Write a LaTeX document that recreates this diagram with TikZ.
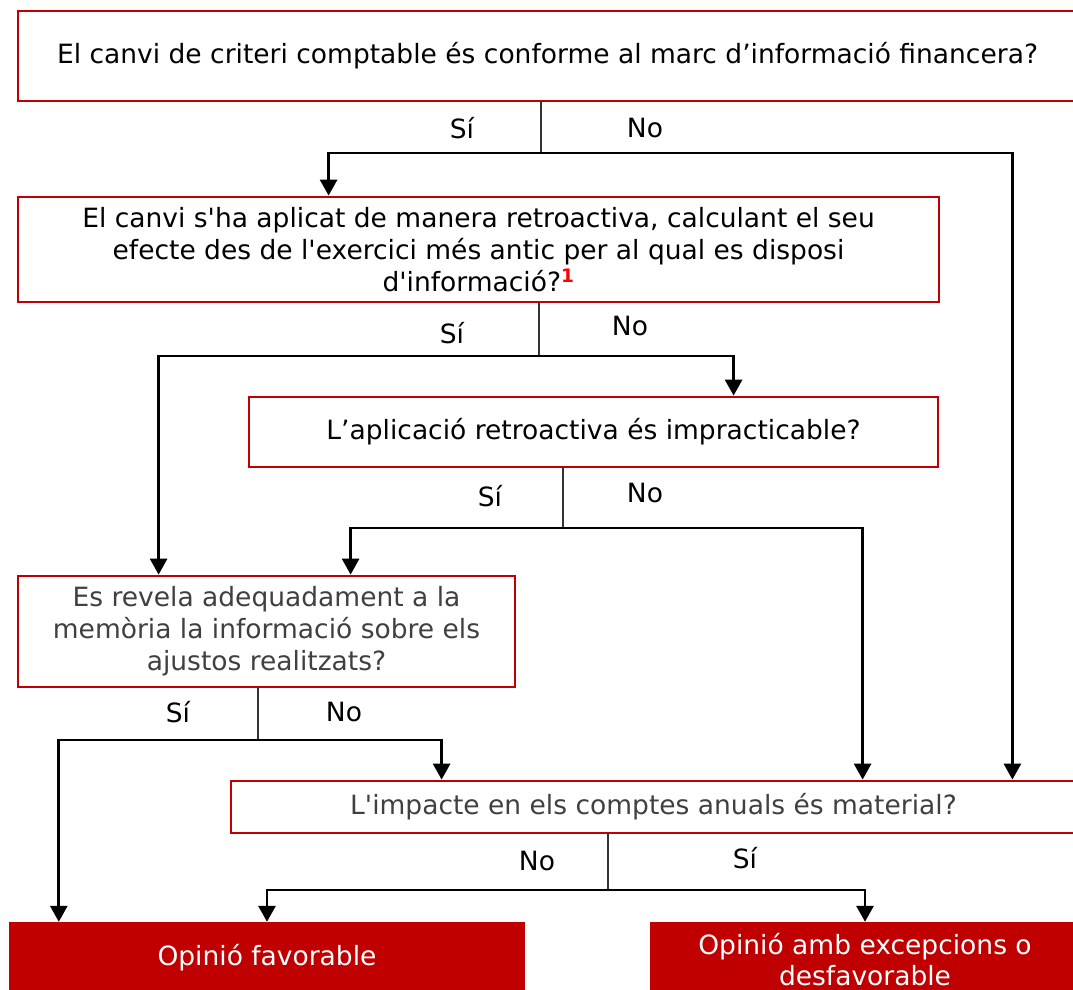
\documentclass[tikz,border=0pt]{standalone}
\usepackage{fontspec}
\setmainfont{DejaVu Sans}[Ligatures=TeXOff]
\usetikzlibrary{arrows.meta}
\definecolor{kred}{HTML}{C00000}
\definecolor{kgray}{HTML}{404040}
\tikzset{
  qbox/.style={draw=kred, line width=2.8pt, fill=white, inner sep=0pt, align=center, text=black,
    font=\fontsize{26.5}{32}\selectfont},
  obox/.style={draw=none, fill=kred, inner sep=0pt, align=center, text=white,
    font=\fontsize{26.5}{31}\selectfont},
  stem/.style={line width=1.2pt, draw=black!80},
  arr/.style={line width=2.9pt, draw=black, line join=miter, -{Triangle[length=16pt,width=17pt]}},
  lbl/.style={font=\fontsize{26.5}{30}\selectfont, text=black, inner sep=0pt},
}
\begin{document}
\begin{tikzpicture}[x=1pt,y=-1pt]
\useasboundingbox (0,0) rectangle (1073,990);
% boxes
\node[qbox, minimum width=1059pt, minimum height=90pt] (b1) at (547.5,56)
  {El canvi de criteri comptable és conforme al marc d’informació financera?};
\node[qbox, minimum width=921pt, minimum height=105pt] (b2) at (478.5,249.5)
  {El canvi s'ha aplicat de manera retroactiva, calculant el seu\\
   efecte des de l'exercici més antic per al qual es disposi\\
   d'informació?\textsuperscript{\color{red}\bfseries 1}};
\node[qbox, minimum width=689pt, minimum height=70pt] (b3) at (593.5,432)
  {L’aplicació retroactiva és impracticable?};
\node[qbox, text=kgray, minimum width=497pt, minimum height=111pt] (b4) at (266.5,631.5)
  {Es revela adequadament a la\\memòria la informació sobre els\\ajustos realitzats?};
\node[qbox, text=kgray, minimum width=845pt, minimum height=52pt] (b5) at (653.5,807)
  {L'impacte en els comptes anuals és material?};
\node[obox, minimum width=516pt, minimum height=72pt] (b6) at (267,958)
  {Opinió favorable};
\node[obox, minimum width=430pt, minimum height=75pt] (b7) at (865,959.5)
  {Opinió amb excepcions o\\desfavorable};
% junctions
\coordinate (j1) at (541,153);
\coordinate (j2) at (539,356);
\coordinate (j3) at (563,528);
\coordinate (j4) at (258,740);
\coordinate (j5) at (608,890);
% level 1
\draw[stem] (b1.south -| j1) -- (j1);
\draw[arr] (j1) -| ([xshift=312pt]b2.north west);
\draw[arr] (j1) -| ([xshift=-66pt]b1.south east |- b5.north);
\node[lbl] (l1a) at (462,128) {Sí};
\node[lbl] (l1b) at (645,128) {No};
% level 2
\draw[stem] (b2.south -| j2) -- (j2);
\draw[arr] (j2) -| ([xshift=142pt]b4.north west);
\draw[arr] (j2) -| ([xshift=486pt]b3.north west);
\node[lbl] (l2a) at (452,333) {Sí};
\node[lbl] (l2b) at (630,326) {No};
% level 3
\draw[stem] (b3.south -| j3) -- (j3);
\draw[arr] (j3) -| ([xshift=334pt]b4.north west);
\draw[arr] (j3) -| ([xshift=633pt]b5.north west);
\node[lbl] (l3a) at (490,496) {Sí};
\node[lbl] (l3b) at (645,493) {No};
% level 4
\draw[stem] (b4.south -| j4) -- (j4);
\draw[arr] (j4) -| ([xshift=50pt]b6.north west);
\draw[arr] (j4) -| ([xshift=212pt]b5.north west);
\node[lbl] (l4a) at (178,712) {Sí};
\node[lbl] (l4b) at (344,712) {No};
% level 5
\draw[stem] (b5.south -| j5) -- (j5);
\draw[arr] (j5) -| (b6.north);
\draw[arr] (j5) -| (b7.north);
\node[lbl] (l5a) at (537,861) {No};
\node[lbl] (l5b) at (745,858) {Sí};
\end{tikzpicture}
\end{document}
